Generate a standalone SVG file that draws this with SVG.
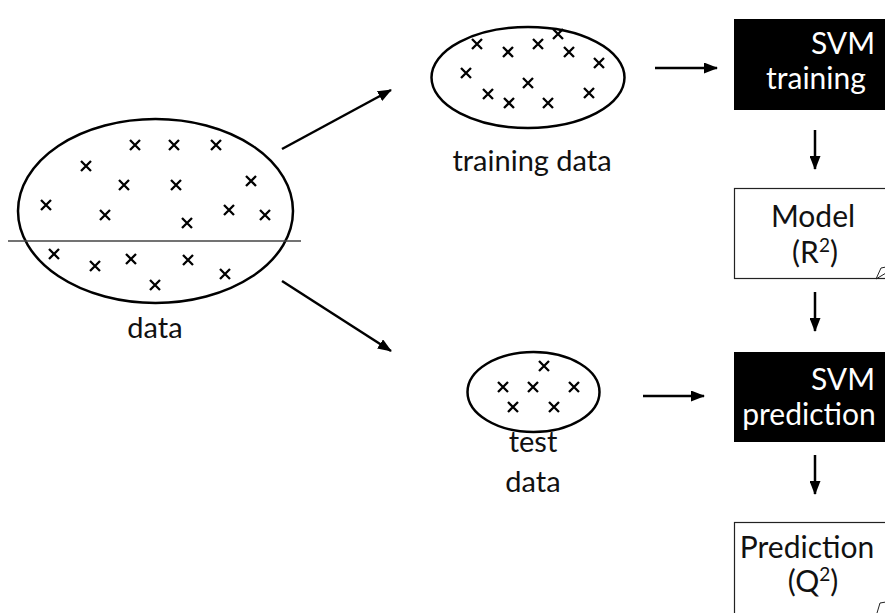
<svg xmlns="http://www.w3.org/2000/svg" xmlns:xlink="http://www.w3.org/1999/xlink" width="885" height="613" viewBox="0 0 885 613">
  <defs>
    <path id="cross" d="M-5,-5L5,5M5,-5L-5,5"/>
    <marker id="head" viewBox="0 0 14 11" refX="13" refY="5.5" markerWidth="14" markerHeight="11" markerUnits="userSpaceOnUse" orient="auto">
      <path d="M0,0L14,5.5L0,11Z" fill="#000"/>
    </marker>
  </defs>
  <style>
    .set { fill: #fff; stroke: #000; stroke-width: 2.5; }
    .pt { stroke: #000; stroke-width: 2.3; fill: none; }
    .lbl { font-family: Lato, "Open Sans", sans-serif; font-size: 29px; fill: #111; text-anchor: middle; }
    .box-dark { fill: #000; }
    .box-doc { fill: #fff; stroke: #222; stroke-width: 1.2; }
    .btxt { font-family: Lato, "Open Sans", sans-serif; font-size: 30px; text-anchor: middle; }
    .sup { font-size: 19px; baseline-shift: 11px; }
    .w { fill: #fff; }
    .k { fill: #111; }
    .conn { stroke: #000; stroke-width: 2.5; fill: none; marker-end: url(#head); }
    .fold { stroke: #222; stroke-width: 1; fill: none; }
  </style>
  <rect width="885" height="613" fill="#fff"/>

  <!-- full data set, split into training and test parts -->
  <g id="data">
    <ellipse class="set" cx="155.5" cy="211" rx="137.5" ry="92"/>
    <line x1="8" y1="241" x2="301" y2="241" stroke="#444" stroke-width="1.6"/>
    <g class="pt">
      <use href="#cross" x="135" y="145"/><use href="#cross" x="174" y="145"/><use href="#cross" x="216" y="145"/>
      <use href="#cross" x="86" y="166"/><use href="#cross" x="124" y="185"/><use href="#cross" x="176" y="185"/>
      <use href="#cross" x="251" y="181"/><use href="#cross" x="46" y="205"/><use href="#cross" x="105" y="215"/>
      <use href="#cross" x="187" y="223"/><use href="#cross" x="229" y="210"/><use href="#cross" x="265" y="215"/>
      <use href="#cross" x="54" y="254"/><use href="#cross" x="95" y="266"/><use href="#cross" x="131" y="259"/>
      <use href="#cross" x="155" y="285"/><use href="#cross" x="188" y="260"/><use href="#cross" x="225" y="274"/>
    </g>
    <text class="lbl" x="155" y="338">data</text>
  </g>

  <!-- training subset -->
  <g id="training-data">
    <ellipse class="set" cx="528" cy="77.5" rx="96.5" ry="50.5"/>
    <g class="pt">
      <use href="#cross" x="477" y="44"/><use href="#cross" x="508" y="52"/><use href="#cross" x="538" y="44"/>
      <use href="#cross" x="558" y="34"/><use href="#cross" x="569" y="52"/><use href="#cross" x="599" y="63"/>
      <use href="#cross" x="466" y="73"/><use href="#cross" x="528" y="83"/><use href="#cross" x="488" y="94"/>
      <use href="#cross" x="509" y="103"/><use href="#cross" x="548" y="103"/><use href="#cross" x="589" y="93"/>
    </g>
    <text class="lbl" x="532" y="171">training data</text>
  </g>

  <!-- test subset -->
  <g id="test-data">
    <ellipse class="set" cx="533.5" cy="392" rx="66" ry="40"/>
    <g class="pt">
      <use href="#cross" x="544" y="366"/><use href="#cross" x="503" y="387"/><use href="#cross" x="533" y="387"/>
      <use href="#cross" x="574" y="387"/><use href="#cross" x="513" y="407"/><use href="#cross" x="554" y="407"/>
    </g>
    <text class="lbl" x="533" y="452">test</text>
    <text class="lbl" x="533" y="492">data</text>
  </g>

  <g id="svm-training">
    <rect class="box-dark" x="734" y="19" width="160" height="91"/>
    <text class="btxt w" x="843" y="54">SVM</text>
    <text class="btxt w" x="816" y="89">training</text>
  </g>

  <g id="model">
    <rect class="box-doc" x="734.5" y="188.5" width="160" height="90"/>
    <path class="fold" d="M876,279L881,268L886,267M876,279L886,273"/>
    <text class="btxt k" x="813" y="227">Model</text>
    <text class="btxt k" x="815" y="263">(R<tspan class="sup">2</tspan>)</text>
  </g>

  <g id="svm-prediction">
    <rect class="box-dark" x="734" y="352" width="160" height="90"/>
    <text class="btxt w" x="843" y="390">SVM</text>
    <text class="btxt w" x="809" y="425">prediction</text>
  </g>

  <g id="prediction">
    <rect class="box-doc" x="734.5" y="522.5" width="160" height="100"/>
    <path class="fold" d="M877,613L880,603L886,602"/>
    <text class="btxt k" x="807" y="558">Prediction</text>
    <text class="btxt k" x="813" y="592">(Q<tspan class="sup">2</tspan>)</text>
  </g>

  <g id="connectors">
    <line class="conn" x1="282" y1="149" x2="391" y2="90"/>
    <line class="conn" x1="282" y1="281" x2="391" y2="351"/>
    <line class="conn" x1="655" y1="68" x2="717" y2="68"/>
    <line class="conn" x1="643" y1="396" x2="704" y2="396"/>
    <line class="conn" x1="815" y1="130" x2="815" y2="169"/>
    <line class="conn" x1="815" y1="292" x2="815" y2="331"/>
    <line class="conn" x1="815" y1="455" x2="815" y2="494"/>
  </g>
</svg>
